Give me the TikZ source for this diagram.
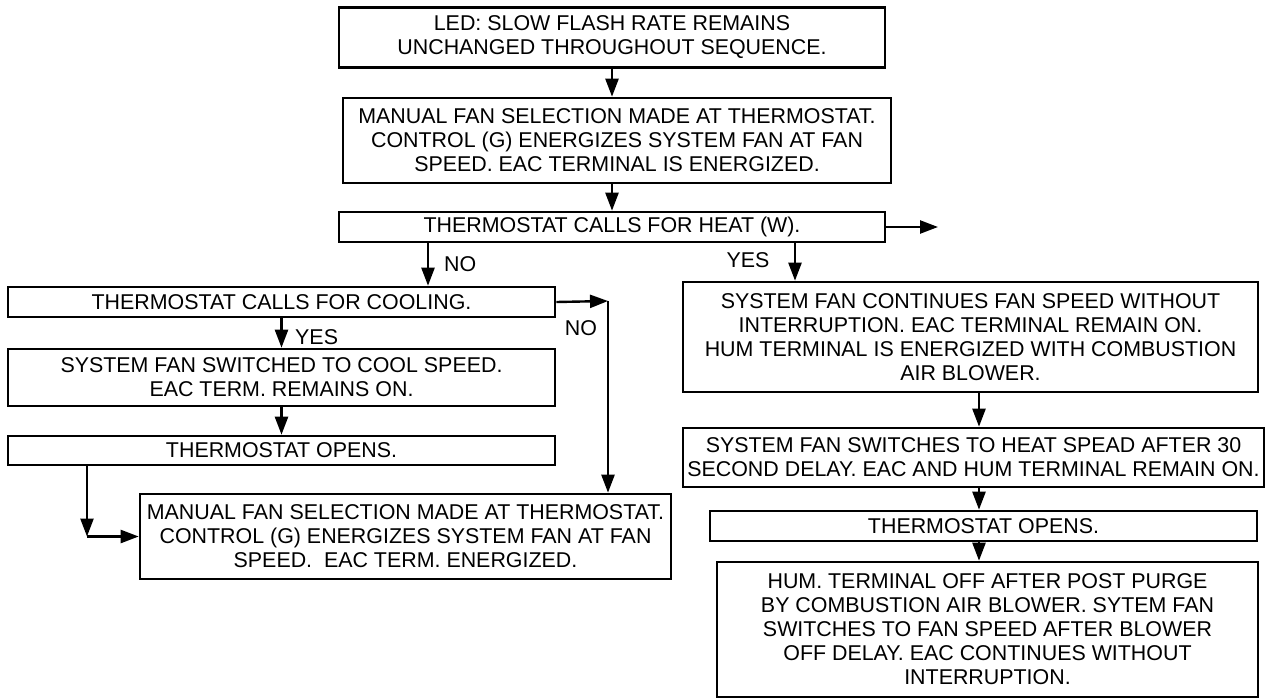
\documentclass[tikz,border=0pt]{standalone}
\usepackage{fontspec}
\setmainfont{Liberation Sans}
\usetikzlibrary{arrows.meta,positioning,calc}

\begin{document}
\begin{tikzpicture}[
    x=1pt, y=-1pt,
    flowbox/.style={rectangle, draw, line width=2.6pt, inner sep=0pt, align=center, font=\fontsize{21.4}{24}\selectfont},
    answer/.style={inner sep=0pt, font=\fontsize{21.4}{24}\selectfont},
    arrow/.style={-{Triangle[length=18pt,width=13pt]}, line width=2.4pt}
]
\useasboundingbox (0,0) rectangle (1269,699);

% Common part
\node[flowbox, minimum width=546pt, minimum height=60pt] (led) at (612,37.5) {LED: SLOW FLASH RATE REMAINS\\UNCHANGED THROUGHOUT SEQUENCE.};
\node[flowbox, minimum width=548pt, minimum height=85pt] (manual) at (617,140.5) {MANUAL FAN SELECTION MADE AT THERMOSTAT.\\CONTROL (G) ENERGIZES SYSTEM FAN AT FAN\\SPEED. EAC TERMINAL IS ENERGIZED.};
\node[flowbox, minimum width=546pt, minimum height=30pt] (heat) at (612,227) {THERMOSTAT CALLS FOR HEAT (W).};
\coordinate (heatout) at (938,227);

% Branch 1: no heat
\node[flowbox, minimum width=547pt, minimum height=30pt] (cool) at (281.5,302) {THERMOSTAT CALLS FOR COOLING.};
\node[flowbox, minimum width=547pt, minimum height=57pt] (coolspeed) at (281.5,377.5) {SYSTEM FAN SWITCHED TO COOL SPEED.\\EAC TERM. REMAINS ON.};
\node[flowbox, minimum width=547pt, minimum height=29pt] (opensL) at (281.5,450.5) {THERMOSTAT OPENS.};
\node[flowbox, minimum width=531pt, minimum height=85pt] (manual2) at (405.5,536.5) {MANUAL FAN SELECTION MADE AT THERMOSTAT.\\CONTROL (G) ENERGIZES SYSTEM FAN AT FAN\\SPEED.\ \ EAC TERM. ENERGIZED.};
\coordinate (nocorner) at (608,301);
\coordinate (opencorner) at (87,536.5);

% Branch 2: heat
\node[flowbox, minimum width=575pt, minimum height=110pt] (yes1) at (970.5,337) {SYSTEM FAN CONTINUES FAN SPEED WITHOUT\\INTERRUPTION. EAC TERMINAL REMAIN ON.\\HUM TERMINAL IS ENERGIZED WITH COMBUSTION\\AIR BLOWER.};
\node[flowbox, minimum width=581pt, minimum height=59pt] (heatspd) at (973.5,457.5) {SYSTEM FAN SWITCHES TO HEAT SPEAD AFTER 30\\SECOND DELAY. EAC AND HUM TERMINAL REMAIN ON.};
\node[flowbox, minimum width=547pt, minimum height=30pt] (opensR) at (983.5,526) {THERMOSTAT OPENS.};
\node[flowbox, minimum width=541pt, minimum height=135pt] (final) at (987.5,629.5) {HUM. TERMINAL OFF AFTER POST PURGE\\BY COMBUSTION AIR BLOWER. SYTEM FAN\\SWITCHES TO FAN SPEED AFTER BLOWER\\OFF DELAY. EAC CONTINUES WITHOUT\\INTERRUPTION.};

% Answers
\node[answer, anchor=west] (noA) at (444,264) {NO};
\node[answer] (yesA) at (748,260) {YES};
\node[answer, anchor=west] (yesB) at (295,337) {YES};
\node[answer] (noB) at (581,328) {NO};

% Arrows
\draw[arrow] (led.south) -- (led.south |- manual.north);
\draw[arrow] (heat.north |- manual.south) -- (heat.north);
\draw[arrow] (heat.east) -- (heatout);
\draw[arrow] (428,0 |- heat.south) -- (428,0 |- cool.north);
\draw[arrow] (795,0 |- heat.south) -- (795,0 |- yes1.north);
\draw[arrow] (cool.south) -- (coolspeed.north);
\draw[arrow] (coolspeed.south) -- (opensL.north);
\draw[arrow] (cool.east) -- (nocorner);
\draw[arrow] (nocorner) -- (nocorner |- manual2.north);
\draw[arrow] (opencorner |- opensL.south) -- (opencorner);
\draw[arrow] (opencorner) -- (manual2.west);
\draw[arrow] (979,0 |- yes1.south) -- (979,0 |- heatspd.north);
\draw[arrow] (979,0 |- heatspd.south) -- (979,0 |- opensR.north);
\draw[arrow] (979,0 |- opensR.south) -- (979,0 |- final.north);

\end{tikzpicture}
\end{document}
